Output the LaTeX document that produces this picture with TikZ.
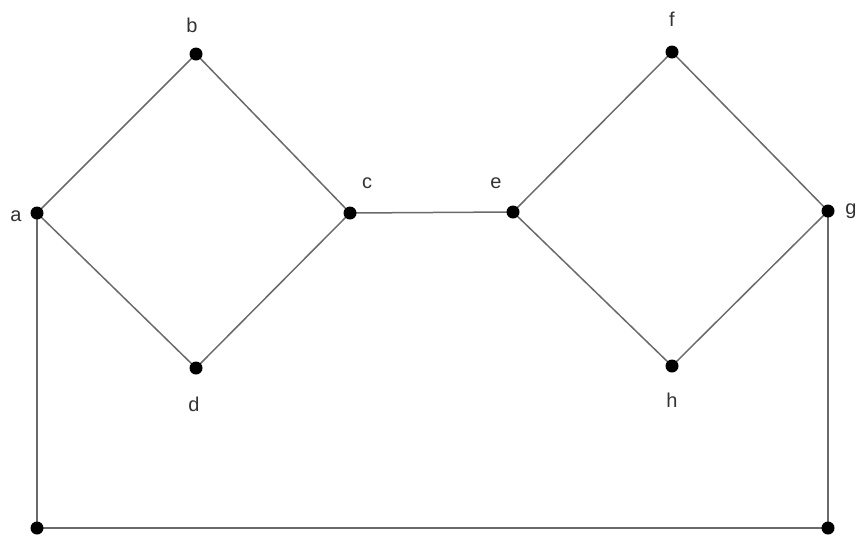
\documentclass[tikz,border=0pt]{standalone}
\usepackage{fontspec}
\setmainfont{Liberation Sans}
\definecolor{edgec}{HTML}{6A6A6A}
\definecolor{labc}{HTML}{333333}
\begin{document}
\begin{tikzpicture}[x=1pt,y=-1pt,
  vtx/.style={circle,fill=black,inner sep=0pt,minimum size=13pt},
  lab/.style={text=labc,font=\fontsize{20}{20}\selectfont,inner sep=0pt},
  edge/.style={draw=edgec,line width=1.5pt}]
\useasboundingbox (0,0) rectangle (858,542);
\coordinate (a) at (37,213);
\coordinate (b) at (196,54);
\coordinate (c) at (350,213);
\coordinate (d) at (196,368);
\coordinate (e) at (513,212);
\coordinate (f) at (672,52);
\coordinate (g) at (828,211);
\coordinate (h) at (672,366);
\coordinate (p) at (37,528);
\coordinate (q) at (828,528);
\draw[edge] (a) -- (b) -- (c) -- (d) -- cycle;
\draw[edge] (c) -- (e);
\draw[edge] (e) -- (f) -- (g) -- (h) -- cycle;
\draw[edge] (a) -- (p) -- (q) -- (g);
\foreach \n in {a,b,c,d,e,f,g,h,p,q} \node[vtx] (v\n) at (\n) {};
\node[lab] (la) at (16,216) {a};
\node[lab] (lb) at (192,25) {b};
\node[lab] (lc) at (367,183) {c};
\node[lab] (ld) at (194,404) {d};
\node[lab] (le) at (496,183) {e};
\node[lab] (lf) at (672,19) {f};
\node[lab] (lg) at (851,211) {g};
\node[lab] (lh) at (672,400) {h};
\end{tikzpicture}
\end{document}
